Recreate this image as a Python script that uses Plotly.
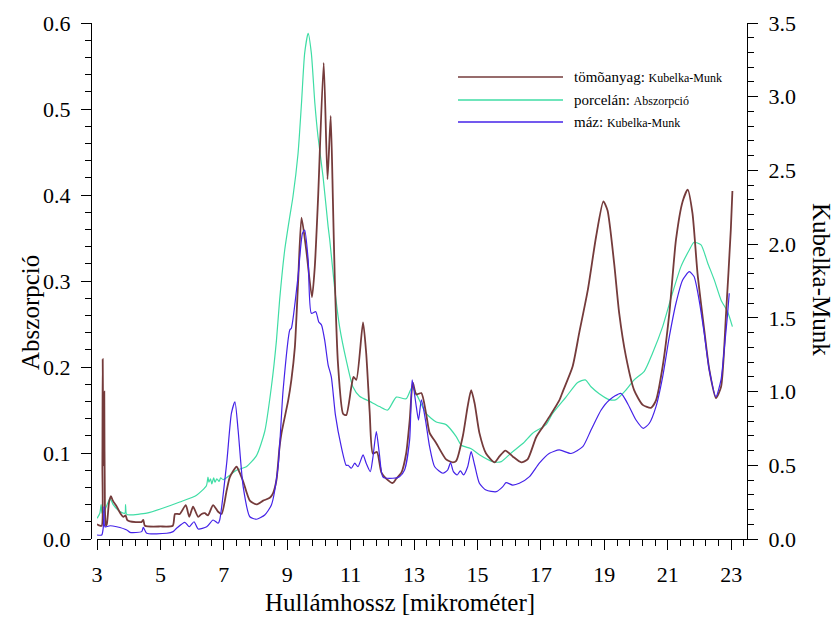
import plotly.graph_objects as go

# --- tömõanyag (Kubelka-Munk) ---
tom_x = [3.00, 3.09, 3.15, 3.17, 3.18, 3.20, 3.21, 3.23, 3.25, 3.28, 3.31, 3.38, 3.44, 3.50,
         3.62, 3.75, 3.83, 3.90, 3.95, 4.04, 4.40, 4.46, 4.51, 5.00, 5.39, 5.46, 5.61, 5.80,
         5.91, 6.03, 6.19, 6.30, 6.40, 6.50, 6.66, 6.82, 6.93, 7.09, 7.19, 7.40, 7.50, 7.61,
         7.82, 8.03, 8.24, 8.45, 8.55, 8.66, 8.76, 8.82, 9.03, 9.13, 9.24, 9.34, 9.45, 9.60,
         9.78, 9.87, 9.97, 10.15, 10.27, 10.37, 10.44, 10.50, 10.60, 10.76, 10.86, 11.02, 11.09,
         11.18, 11.39, 11.49, 11.60, 11.70, 11.83, 11.97, 12.12, 12.33, 12.44, 12.60, 12.75,
         12.86, 12.96, 13.07, 13.23, 13.38, 13.49, 13.70, 14.01, 14.22, 14.33, 14.54, 14.69,
         14.80, 14.91, 15.06, 15.27, 15.54, 15.69, 15.88, 16.11, 16.38, 16.58, 16.85, 17.06,
         17.27, 17.58, 17.69, 18.00, 18.21, 18.48, 18.74, 18.97, 19.10, 19.31, 19.47, 19.68,
         19.94, 20.21, 20.47, 20.63, 20.84, 21.05, 21.26, 21.47, 21.63, 21.78, 21.94, 22.15,
         22.31, 22.52, 22.68, 22.84, 22.99, 23.04]
tom_km = [0.10, 0.09, 0.09, 0.50, 1.22, 0.60, 0.50, 1.00, 0.20, 0.09, 0.10, 0.25, 0.29, 0.26,
          0.22, 0.17, 0.15, 0.16, 0.13, 0.12, 0.115, 0.13, 0.09, 0.085, 0.09, 0.17, 0.17, 0.23,
          0.15, 0.22, 0.15, 0.17, 0.175, 0.16, 0.23, 0.185, 0.17, 0.33, 0.42, 0.49, 0.45, 0.39,
          0.26, 0.235, 0.26, 0.28, 0.31, 0.40, 0.63, 0.72, 0.94, 1.08, 1.30, 1.73, 2.18, 1.96,
          1.64, 1.85, 2.30, 3.23, 2.44, 2.87, 2.30, 1.76, 1.19, 0.85, 0.84, 1.03, 1.10,
          1.08, 1.47, 1.26, 0.86, 0.58, 0.59, 0.45, 0.41, 0.38, 0.41, 0.45, 0.58,
          0.80, 1.06, 0.98, 0.99, 0.85, 0.72, 0.65, 0.54, 0.52, 0.53, 0.70, 0.90,
          1.01, 0.92, 0.72, 0.58, 0.52, 0.56, 0.60, 0.56, 0.52, 0.54, 0.69, 0.76,
          0.83, 0.94, 1.00, 1.17, 1.40, 1.69, 2.05, 2.29, 2.23, 1.87, 1.53, 1.24,
          1.01, 0.91, 0.89, 0.94, 1.17, 1.53, 2.03, 2.29, 2.37, 2.21, 1.80, 1.42,
          1.15, 0.955, 1.03, 1.53, 2.10, 2.36]

# --- porcelán (Abszorpció) ---
por_x = [3.00, 3.09, 3.13, 3.16, 3.25, 3.41, 3.51, 3.72, 3.88, 3.90, 3.93, 4.04, 4.57, 5.09,
         5.61, 6.14, 6.45, 6.50, 6.53, 6.58, 6.62, 6.68, 6.72, 6.78, 6.85, 6.90, 6.98, 7.40,
         7.71, 8.03, 8.29, 8.50, 8.66, 8.76, 8.92, 9.08, 9.18, 9.34, 9.45, 9.55, 9.66, 9.76,
         9.87, 9.97, 10.13, 10.29, 10.34, 10.50, 10.65, 10.86, 11.07, 11.28, 11.60, 11.91,
         12.17, 12.44, 12.75, 12.94, 13.07, 13.38, 13.70, 14.01, 14.33, 14.49, 14.80, 15.06,
         15.48, 15.75, 16.06, 16.43, 16.74, 17.16, 17.37, 17.79, 18.16, 18.40, 18.58, 18.84,
         19.16, 19.37, 19.68, 19.94, 20.26, 20.52, 20.84, 21.15, 21.42, 21.68, 21.83, 22.05,
         22.26, 22.47, 22.68, 22.89, 23.04]
por_a = [0.024, 0.030, 0.040, 0.030, 0.034, 0.047, 0.040, 0.032, 0.030, 0.040, 0.029, 0.028,
         0.030, 0.036, 0.043, 0.051, 0.062, 0.072, 0.066, 0.070, 0.064, 0.071, 0.066, 0.070,
         0.067, 0.071, 0.069, 0.080, 0.084, 0.097, 0.125, 0.177, 0.231, 0.278, 0.336, 0.375,
         0.398, 0.448, 0.507, 0.565, 0.588, 0.565, 0.507, 0.468, 0.421, 0.363, 0.348, 0.290,
         0.247, 0.208, 0.177, 0.166, 0.160, 0.154, 0.150, 0.165, 0.163, 0.177, 0.169, 0.146,
         0.136, 0.133, 0.119, 0.109, 0.105, 0.098, 0.090, 0.090, 0.100, 0.111, 0.123, 0.133,
         0.146, 0.165, 0.182, 0.185, 0.177, 0.169, 0.162, 0.162, 0.173, 0.185, 0.195, 0.216,
         0.247, 0.286, 0.317, 0.336, 0.345, 0.342, 0.321, 0.301, 0.278, 0.264, 0.247]

# --- máz (Kubelka-Munk) ---
maz_x = [3.00, 3.15, 3.20, 3.22, 3.25, 3.41, 3.62, 3.94, 4.04, 4.41, 4.46, 4.57, 5.20, 5.40,
         5.51, 5.77, 5.91, 6.06, 6.19, 6.46, 6.66, 6.82, 6.87, 7.09, 7.24, 7.35, 7.45, 7.61,
         7.82, 8.03, 8.29, 8.50, 8.71, 8.87, 9.08, 9.13, 9.34, 9.48, 9.55, 9.66, 9.76, 9.90,
         9.99, 10.08, 10.18, 10.29, 10.39, 10.52, 10.70, 10.86, 10.92, 11.02, 11.13, 11.23,
         11.39, 11.49, 11.62, 11.70, 11.81, 11.91, 12.02, 12.33, 12.54, 12.70, 12.86, 12.94,
         13.07, 13.14, 13.23, 13.36, 13.49, 13.65, 13.91, 14.06, 14.15, 14.24, 14.36, 14.46,
         14.56, 14.69, 14.80, 14.91, 15.06, 15.27, 15.59, 15.80, 15.90, 16.11, 16.32, 16.64,
         16.95, 17.27, 17.58, 17.95, 18.32, 18.58, 18.90, 19.16, 19.52, 19.73, 20.00, 20.23,
         20.42, 20.63, 20.84, 21.05, 21.26, 21.47, 21.68, 21.83, 21.99, 22.15, 22.31, 22.52,
         22.68, 22.79, 22.89, 22.94]
maz_km = [0.027, 0.027, 0.083, 0.22, 0.083, 0.09, 0.083, 0.061, 0.045, 0.05, 0.079, 0.039,
          0.039, 0.05, 0.073, 0.113, 0.083, 0.117, 0.068, 0.083, 0.129, 0.107, 0.129, 0.514,
          0.853, 0.931, 0.739, 0.355, 0.151, 0.134, 0.163, 0.231, 0.49, 1.011, 1.418, 1.43,
          1.78, 2.074, 2.096, 1.893, 1.531, 1.542, 1.474, 1.452, 1.35, 1.18, 1.10, 0.84,
          0.63, 0.50, 0.50, 0.48, 0.514, 0.49, 0.57, 0.514, 0.457, 0.55, 0.728, 0.57, 0.42,
          0.412, 0.423, 0.468, 0.672, 1.079, 0.898, 0.807, 0.943, 0.807, 0.626, 0.49, 0.446,
          0.468, 0.518, 0.457, 0.434, 0.463, 0.434, 0.49, 0.592, 0.502, 0.378, 0.332, 0.321,
          0.355, 0.382, 0.366, 0.378, 0.423, 0.514, 0.581, 0.604, 0.58, 0.626, 0.739, 0.875,
          0.943, 0.988, 0.921, 0.807, 0.751, 0.785, 0.898, 1.10, 1.372, 1.599, 1.757, 1.813,
          1.78, 1.621, 1.396, 1.147, 0.965, 1.079, 1.305, 1.531, 1.667]

series_names = ["tömõanyag", "porcelán", "máz"]
series_units = ["Kubelka-Munk", "Abszorpció", "Kubelka-Munk"]
colors = ["#753B3B", "#3FDDA5", "#4422E8"]
widths = [1.8, 1.2, 1.2]

W, H = 834, 617
L, R, T, B = 91, 87, 23, 78
PW, PH = W - L - R, H - T - B


def pxx(x):
    return (x - L) / PW


def pxy(y):
    return (H - B - y) / PH


FONT = "Liberation Serif, Times New Roman, serif"

fig = go.Figure()
fig.add_trace(go.Scatter(x=tom_x, y=tom_km, yaxis="y2", mode="lines",
                         line=dict(color=colors[0], width=widths[0], shape="spline", smoothing=0.6),
                         name=series_names[0], showlegend=False))
fig.add_trace(go.Scatter(x=por_x, y=por_a, yaxis="y", mode="lines",
                         line=dict(color=colors[1], width=widths[1], shape="spline", smoothing=0.6),
                         name=series_names[1], showlegend=False))
fig.add_trace(go.Scatter(x=maz_x, y=maz_km, yaxis="y2", mode="lines",
                         line=dict(color=colors[2], width=widths[2], shape="spline", smoothing=0.6),
                         name=series_names[2], showlegend=False))

axis_common = dict(showgrid=False, zeroline=False, showline=True, linecolor="black",
                   linewidth=1, ticks="outside", ticklen=10, tickcolor="black",
                   tickfont=dict(family=FONT, size=22, color="black"))

fig.update_layout(
    width=W, height=H,
    margin=dict(l=L, r=R, t=T, b=B),
    paper_bgcolor="white", plot_bgcolor="white",
    xaxis=dict(range=[3, 23.5], domain=[6 / PW, 1], tick0=3, dtick=2, anchor="y",
               minor=dict(dtick=0.4, tick0=3, ticklen=6, ticks="outside", tickcolor="black"),
               ticklabelstandoff=6, **axis_common),
    yaxis=dict(range=[0, 0.6], dtick=0.1, tick0=0, tickformat=".1f", anchor="free", position=0,
               minor=dict(dtick=0.02, ticklen=6, ticks="outside", tickcolor="black"),
               ticklabelstandoff=6, **axis_common),
    yaxis2=dict(range=[0, 3.5], dtick=0.5, tick0=0, tickformat=".1f", overlaying="y",
                side="right", anchor="x",
                minor=dict(dtick=0.1, ticklen=6, ticks="outside", tickcolor="black"),
                ticklabelstandoff=6, **axis_common),
    showlegend=False,
)

annotations = [
    dict(text="Hullámhossz [mikrométer]", x=pxx(400), y=pxy(602), xref="paper", yref="paper",
         showarrow=False, font=dict(family=FONT, size=25, color="black"),
         xanchor="center", yanchor="middle"),
    dict(text="Abszorpció", x=pxx(30), y=pxy(313), xref="paper", yref="paper", textangle=-90,
         showarrow=False, font=dict(family=FONT, size=25, color="black"),
         xanchor="center", yanchor="middle"),
    dict(text="Kubelka-Munk", x=pxx(822), y=pxy(279), xref="paper", yref="paper", textangle=90,
         showarrow=False, font=dict(family=FONT, size=25, color="black"),
         xanchor="center", yanchor="middle"),
]

# hand-drawn key in the upper right
shapes = []
row_y = [77, 100, 122]
for name, unit, col, ry in zip(series_names, series_units, colors, row_y):
    shapes.append(dict(type="line", xref="paper", yref="paper",
                       x0=pxx(458), x1=pxx(563), y0=pxy(ry), y1=pxy(ry),
                       line=dict(color=col, width=1.5)))
    annotations.append(dict(
        text=f"{name}: <span style='font-size:12px'>{unit}</span>",
        x=pxx(572), y=pxy(ry), xref="paper", yref="paper", showarrow=False,
        xanchor="left", yanchor="middle", font=dict(family=FONT, size=15, color="black")))

fig.update_layout(annotations=annotations, shapes=shapes)

fig.write_html("out.html")
